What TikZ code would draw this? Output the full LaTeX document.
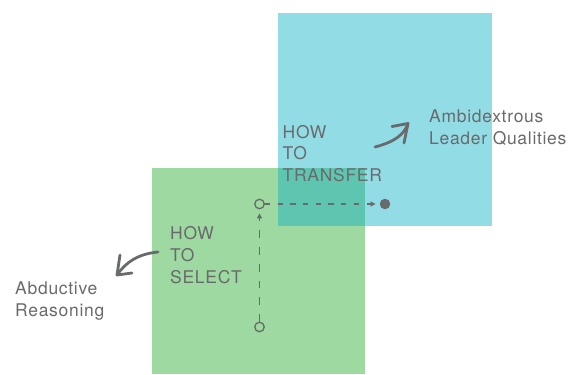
\documentclass[tikz,border=0pt]{standalone}
\usepackage{fontspec}
\newfontfamily\tagfont[LetterSpace=4]{TeX Gyre Heros}
\usetikzlibrary{arrows.meta}

\definecolor{boxblue}{HTML}{92DCE5}
\definecolor{boxgreen}{HTML}{9DD9A0}
\definecolor{boxteal}{HTML}{5EC6B0}
\definecolor{inkgray}{HTML}{696A6C}

\tikzset{
  tag/.style={anchor=north west, inner sep=0pt, align=left, text=inkgray,
    font=\tagfont\fontsize{17.5}{21.7}\selectfont},
  hollow/.style={circle, draw=inkgray, line width=1.3pt, minimum size=9.5pt, inner sep=0pt},
  fulldot/.style={circle, fill=inkgray, minimum size=10.5pt, inner sep=0pt},
  flow/.style={inkgray, line width=1.3pt, dash pattern=on 5.3pt off 7.4pt,
    -{Triangle[length=5pt,width=5pt]}, shorten >=4pt},
  sketch/.style={inkgray, line width=2.8pt, line cap=round, line join=round}
}

\begin{document}
\begin{tikzpicture}[x=1pt, y=-1pt]
        \useasboundingbox (0,0) rectangle (569,374);
        \fill[boxblue] (277.5,13.5) rectangle (492,226);
        \fill[boxgreen] (152,168) rectangle (365,374);
        \fill[boxteal] (277.5,168) rectangle (365,226);

        \node[tag] (transfer) at (282.5,125) {HOW\\TO\\TRANSFER};
        \node[tag] (select) at (170,226.5) {HOW\\TO\\SELECT};
        \node[tag] (abductive) at (15,281.5) {Abductive\\Reasoning};
        \node[tag] (ambidex) at (429,110) {Ambidextrous\\Leader Qualities};

        \node[hollow] (low) at (259.5,327) {};
        \node[hollow] (up) at (259.5,204) {};
        \node[fulldot] (goal) at (385,204) {};
        \draw[flow, dash pattern=on 7.7pt off 9pt] (low) -- (up);
        \draw[flow] (up) -- (goal);

        \coordinate (tr-from) at (375,147);
        \coordinate (tr-to) at (408,123.5);
        \draw[sketch] (tr-from) .. controls (394,142) and (404,135) .. (tr-to);
        \draw[sketch] (392,126.5) -- (tr-to) -- (404,143);

        \coordinate (bl-from) at (158,252);
        \coordinate (bl-to) at (117,275);
        \draw[sketch] (bl-from) .. controls (138,254) and (126,262) .. (bl-to);
        \draw[sketch] (120,255) -- (bl-to) -- (132,273);
\end{tikzpicture}
\end{document}
